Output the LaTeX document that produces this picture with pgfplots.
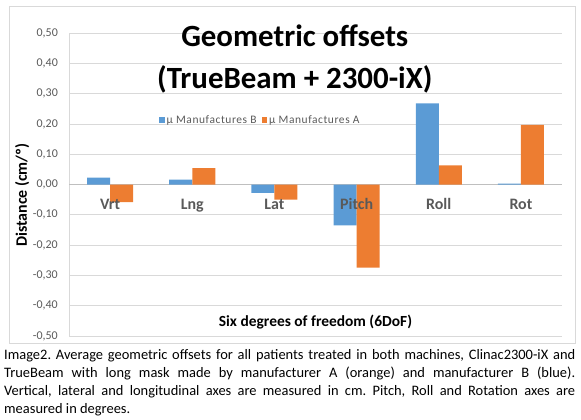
\documentclass[border=0pt]{standalone}
\usepackage{fontspec}
\setmainfont{Carlito}
\newfontfamily\legfont[LetterSpace=5]{Carlito}
\usepackage{pgfplots}
\pgfplotsset{compat=1.18}
\definecolor{barB}{HTML}{5B9BD5}
\definecolor{barA}{HTML}{ED7D31}
\definecolor{gridc}{HTML}{D9D9D9}
\definecolor{txt}{HTML}{595959}
\definecolor{zeroc}{HTML}{BFBFBF}
\pgfplotsset{
  frame/.style={
    at={(69bp,-336bp)}, anchor=south west,
    scale only axis, width=493bp, height=303bp,
    xmin=-0.5, xmax=5.5, ymin=-0.5, ymax=0.5,
    major tick length=0pt,
  },
}
\frenchspacing

\begin{document}
\begin{tikzpicture}[x=1bp,y=1bp]
\path[use as bounding box] (0,0) rectangle (581,-419);
\draw[gridc, line width=0.75bp] (9,-6) rectangle (575,-343);
\begin{axis}[
  frame,
  ybar=0pt, bar width=0.28,
  xtick=data, xticklabels={},
  ytick distance=0.1,
  yticklabel style={anchor=east, inner sep=0pt, xshift=-11bp, font=\fontsize{12}{14}\selectfont, text=txt},
  /pgf/number format/.cd, fixed, fixed zerofill, precision=2, use comma, assume math mode=true, /pgfplots/.cd,
  ymajorgrids, grid style={gridc, line width=0.75bp},
  extra y ticks={0}, extra y tick labels={},
  extra y tick style={grid style={zeroc, line width=0.75bp}},
  axis x line*=bottom, axis y line*=left,
  axis line style={gridc, line width=0.75bp, -},
  title={Geometric offsets\\(TrueBeam + 2300-iX)},
  title style={at={(axis description cs:0.458,1.007)}, anchor=north, align=center, inner sep=0pt, font=\bfseries\fontsize{31}{42}\selectfont},
  ylabel={Distance (cm/º)},
  ylabel style={at={(axis description cs:-0.095,0.465)}, anchor=center, font=\bfseries\fontsize{16}{18}\selectfont},
  xlabel={Six degrees of freedom (6DoF)},
  xlabel style={at={(axis description cs:0.5,0.046)}, anchor=center, font=\bfseries\fontsize{15.5}{18}\selectfont},
  legend columns=2,
  legend style={at={(axis description cs:0.388,0.713)}, anchor=center, draw=none, fill=none,
    font=\legfont\fontsize{11.5}{13}\selectfont, text=txt, inner sep=0pt,
    nodes={inner xsep=2bp},
    /tikz/every even column/.append style={column sep=3bp}},
  legend image code/.code={\fill[#1] (0bp,-2.8bp) rectangle (5.6bp,2.8bp);},
]
\addplot[fill=barB, draw=none] coordinates {(0,0.023) (1,0.016) (2,-0.028) (3,-0.135) (4,0.268) (5,0.003)};
\addplot[fill=barA, draw=none] coordinates {(0,-0.058) (1,0.054) (2,-0.050) (3,-0.274) (4,0.063) (5,0.197)};
\legend{µ Manufactures B, µ Manufactures A}
\end{axis}
% category names, drawn over the bars
\begin{axis}[
  frame,
  axis line style={draw=none},
  ytick=\empty,
  xtick={0,1,2,3,4,5},
  xticklabels={Vrt,Lng,Lat,Pitch,Roll,Rot},
  xticklabel style={anchor=base, yshift=127bp, font=\bfseries\fontsize{16}{18}\selectfont, text=txt},
]
\end{axis}
\node[anchor=north west, inner sep=0pt, text width=571bp, align=justify, font=\fontsize{14.5}{18.2}\selectfont] at (4,-349)
{Image2. Average geometric offsets for all patients treated in both machines, Clinac2300-iX and\linebreak
TrueBeam with long mask made by manufacturer A (orange) and manufacturer B (blue).\linebreak
Vertical, lateral and longitudinal axes are measured in cm. Pitch, Roll and Rotation axes are\linebreak
measured in degrees.};
\end{tikzpicture}
\end{document}
